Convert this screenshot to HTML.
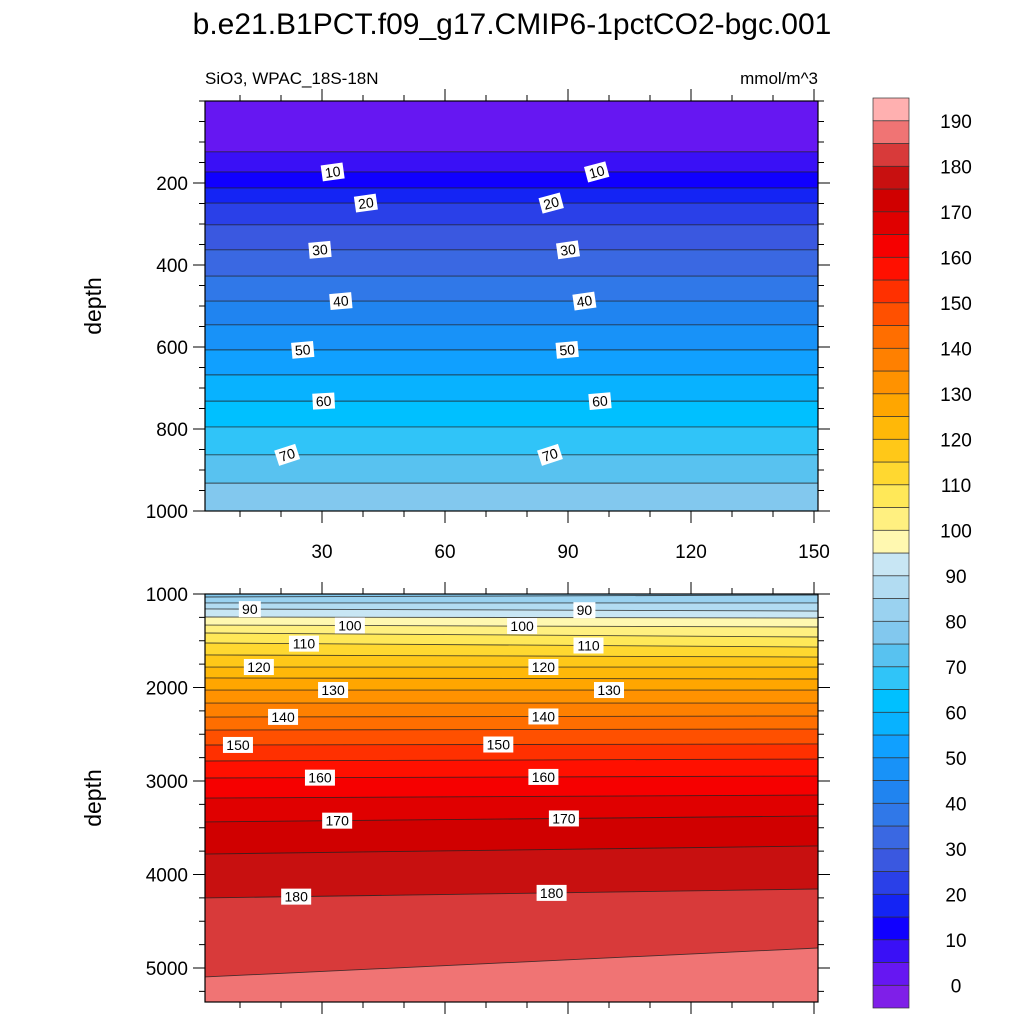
<!DOCTYPE html>
<html><head><meta charset="utf-8"><style>
html,body{margin:0;padding:0;background:#fff;overflow:hidden;width:1024px;height:1024px;}
svg{display:block;font-family:"Liberation Sans",sans-serif;}
</style></head><body>
<svg id="chart" width="1024" height="1024" viewBox="0 0 1024 1024">
<text x="512" y="34" font-size="30" text-anchor="middle">b.e21.B1PCT.f09_g17.CMIP6-1pctCO2-bgc.001</text>
<text x="205" y="84" font-size="17">SiO3, WPAC_18S-18N</text>
<text x="818" y="84" font-size="17" text-anchor="end">mmol/m^3</text>
<g id="top"></g>
<g id="bot"></g>
<g id="cbar"></g>
</svg>
<script>
// contour levels and depths (left edge, right edge)
const levels = [5,10,15,20,25,30,35,40,45,50,55,60,65,70,75,80,85,90,95,100,105,110,115,120,125,130,135,140,145,150,155,160,165,170,175,180,185];
const depthLeft = [124,173,212,249,302,363,427,488,546,607,668,732,795,863,932,1032,1096,1160,1246,1332,1417,1524,1652,1781,1898,2027,2166,2316,2455,2615,2786,2968,3182,3438,3781,4251,5096];
const depthRight = [124,173,212,249,302,363,427,488,546,607,668,732,795,863,932,1011,1096,1182,1257,1353,1460,1567,1674,1781,1909,2027,2166,2305,2444,2604,2765,2947,3150,3374,3695,4155,4786];
const cbarLevels = [0,5,10,15,20,25,30,35,40,45,50,55,60,65,70,75,80,85,90,95,100,105,110,115,120,125,130,135,140,145,150,155,160,165,170,175,180,185,190];
const cbarColors = ["#7f1fe8","#6617f2","#3a10f6","#1000ff","#1424f4","#2a40e8","#3a58e0","#3a68e2","#3078e8","#2084f0","#1892f8","#10a0ff","#08b2ff","#00c0ff","#30c4f8","#58c2f0","#82c8ee","#9ad2f0","#b2dcf2","#c8e6f4","#fff8b0","#fff080","#ffe858","#ffd830","#ffc818","#ffb808","#ffa600","#ff9200","#ff8000","#ff6e00","#ff5000","#ff3000","#ff1000","#f60000","#e00000","#d00000","#c81010","#d83a3a","#f07474","#ffb0b0"];
const cbarTicks = [0,10,20,30,40,50,60,70,80,90,100,110,120,130,140,150,160,170,180,190];
const xTicks = [30,60,90,120,150];
const topYTicks = [200,400,600,800,1000];
const botYTicks = [1000,2000,3000,4000,5000];
const labelLevels = [10,10,20,20,30,30,40,40,50,50,60,60,70,70,90,90,100,100,110,110,120,120,130,130,140,140,150,150,160,160,170,170,180,180];
const labelX = [32.6,97,40.7,85.9,29.5,90,34.6,94,25.3,89.8,30.4,97.8,21.5,85.6,12.4,94,36.8,78.8,25.6,95,14.6,84,32.7,100,20.5,84,9.5,73,29.5,84,33.7,89,23.7,86];
const labelRot = [-8,-15,-8,-15,-5,-8,-5,-8,-5,-5,-3,-5,-18,-18,0,0,0,0,0,0,0,0,0,0,0,0,0,0,0,0,0,0,0,0];

const NS="http://www.w3.org/2000/svg";
function el(t,a,p){const e=document.createElementNS(NS,t);for(const k in a)e.setAttribute(k,a[k]);p.appendChild(e);return e;}
const X0=205,X1=818;
const xs=v=>199+v*4.1;
const xmin=(X0-199)/4.1, xmax=(X1-199)/4.1;
function colorFor(v){let i=0;while(i<cbarLevels.length&&v>=cbarLevels[i])i++;return cbarColors[i];}

function panel(g,ys,d0,d1,top,bot,yTicks,minorStep,showX){
  const clipId=g.id+"clip";
  const defs=el("defs",{},g);const cp=el("clipPath",{id:clipId},defs);el("rect",{x:X0,y:top,width:X1-X0,height:bot-top},cp);
  const cg=el("g",{"clip-path":"url(#"+clipId+")"},g);
  let lineY=(i,x)=>ys(depthLeft[i]+(depthRight[i]-depthLeft[i])*(x-xmin)/(xmax-xmin));
  const bg=el("rect",{x:X0,y:top,width:X1-X0,height:bot-top,fill:colorFor(d0<500?0:77)},cg);
  
  
  for(let i=0;i<levels.length;i++){
    const yl=lineY(i,xmin),yr=lineY(i,xmax);
    if(Math.min(yl,yr)>bot)continue;
    const p=el("polygon",{points:`${X0},${yl} ${X1},${yr} ${X1},${bot} ${X0},${bot}`,fill:colorFor(levels[i])},cg);
    
    
  }
  for(let i=0;i<levels.length;i++){
    const l=el("line",{x1:X0,y1:lineY(i,xmin),x2:X1,y2:lineY(i,xmax),stroke:"#222","stroke-width":0.9,"stroke-opacity":0.8},cg);
    
    
  }
  for(let k=0;k<labelLevels.length;k++){
    const i=levels.indexOf(labelLevels[k]);
    const yy=lineY(i,labelX[k]);
    if(yy<top||yy>bot)continue;
    const px=xs(labelX[k]);
    const lg=el("g",{transform:`translate(${px},${yy}) rotate(${labelRot[k]})`},cg);
    
    
    const w=labelLevels[k]>=100?30:22;
    el("rect",{x:-w/2,y:-8,width:w,height:16,fill:"#fff"},lg);
    const t=el("text",{x:0,y:5,"font-size":14,"text-anchor":"middle"},lg);t.textContent=labelLevels[k];
  }
  const fr=el("rect",{x:X0,y:top,width:X1-X0,height:bot-top,fill:"none",stroke:"#000","stroke-width":1.2},g);
  
  
  for(let d=Math.ceil(d0/minorStep)*minorStep;d<=d1;d+=minorStep){
    const y=ys(d);if(y<top-0.5||y>bot+0.5)continue;const maj=yTicks.includes(d);
    el("line",{x1:X0,y1:y,x2:X0-(maj?12:6),y2:y,stroke:"#000","stroke-width":1},g);
    el("line",{x1:X1,y1:y,x2:X1+(maj?12:6),y2:y,stroke:"#000","stroke-width":1},g);
  }
  yTicks.forEach(d=>{const t=el("text",{x:X0-17,y:ys(d)+7,"font-size":19,"text-anchor":"end"},g);t.textContent=d;
    
    });
  for(let v=10;v<=150;v+=10){
    const x=xs(v);const maj=xTicks.includes(v);
    el("line",{x1:x,y1:bot,x2:x,y2:bot+(maj?12:6),stroke:"#000","stroke-width":1},g);
    el("line",{x1:x,y1:top,x2:x,y2:top-(maj?12:6),stroke:"#000","stroke-width":1},g);
  }
  if(showX)xTicks.forEach(v=>{const t=el("text",{x:xs(v),y:bot+47,"font-size":19,"text-anchor":"middle"},g);t.textContent=v;
    
    });
  const yt=el("text",{x:0,y:0,"font-size":23,"text-anchor":"middle",transform:`translate(101,${(top+bot)/2}) rotate(-90)`},g);yt.textContent="depth";
  
  
}
panel(document.getElementById("top"),d=>101+d*0.41,0,1000,101,511,topYTicks,50,true);
panel(document.getElementById("bot"),d=>594+(d-1000)*0.0935,1000,5360,594,1002,botYTicks,250,false);

const cb=document.getElementById("cbar");
const CB0=98,CB1=1008,CX=873,CW=36,bh=(CB1-CB0)/cbarColors.length;
cbarColors.forEach((c,i)=>{
  const r=el("rect",{x:CX,y:CB1-(i+1)*bh,width:CW,height:bh,fill:c,stroke:"#333","stroke-width":0.7},cb);
  
  
});
cbarTicks.forEach(v=>{
  const i=cbarLevels.indexOf(v);const y=CB1-(i+1)*bh;
  const t=el("text",{x:956,y:y+7,"font-size":19,"text-anchor":"middle"},cb);t.textContent=v;
  
  
});
</script>
</body></html>
